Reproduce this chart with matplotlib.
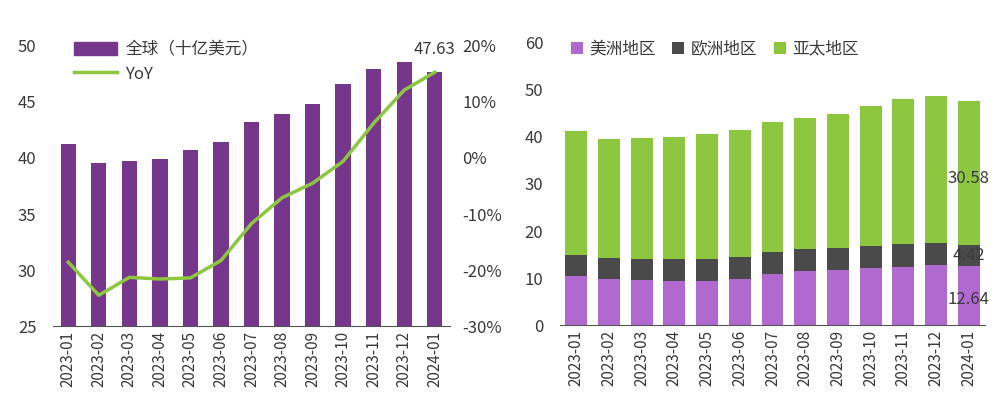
import numpy as np
import matplotlib.pyplot as plt
from matplotlib.patches import Patch
from matplotlib.lines import Line2D

plt.rcParams['font.family'] = ['Noto Sans CJK SC', 'DejaVu Sans']

# 数据
months = ["2023-01", "2023-02", "2023-03", "2023-04", "2023-05", "2023-06", "2023-07",
          "2023-08", "2023-09", "2023-10", "2023-11", "2023-12", "2024-01"]
total = [41.25, 39.58, 39.76, 39.91, 40.68, 41.46, 43.18, 43.96, 44.85, 46.58, 47.95, 48.60, 47.63]
yoy = [-18.6, -24.5, -21.3, -21.6, -21.4, -18.3, -11.7, -7.1, -4.5, -0.6, 6.2, 12.1, 15.3]
americas = [10.47, 9.90, 9.55, 9.48, 9.48, 9.84, 10.97, 11.46, 11.75, 12.10, 12.46, 12.74, 12.64]
europe = [4.46, 4.47, 4.60, 4.53, 4.67, 4.66, 4.67, 4.68, 4.74, 4.81, 4.88, 4.67, 4.42]
asia = [t - a - e for t, a, e in zip(total, americas, europe)]
asia[-1] = 30.58

purple = "#76368C"
green = "#8DC63F"
light_purple = "#B06ACF"
dark_gray = "#4A4A4A"
txt = "#3A3A3A"

fig = plt.figure(figsize=(10, 4.17), dpi=100)
x = np.arange(len(months))

# 左图
ax1 = fig.add_axes([0.053, 0.218, 0.397, 0.672])
ax1.bar(x, total, width=0.5, color=purple)
ax1.set_ylim(25, 50)
ax1.set_xlim(-0.5, 12.5)
ax1.set_yticks([25, 30, 35, 40, 45, 50])
ax2 = ax1.twinx()
ax2.plot(x, yoy, color=green, lw=2.5)
ax2.set_ylim(-30, 20)
ax2.set_yticks([-30, -20, -10, 0, 10, 20])
ax2.set_yticklabels([f"{v}%" for v in [-30, -20, -10, 0, 10, 20]])
ax1.text(12.0, 49.7, "47.63", ha="center", va="center", fontsize=12, color=txt)

for ax in (ax1, ax2):
    for s in ax.spines.values():
        s.set_visible(False)
    ax.tick_params(length=0, labelsize=12, colors=txt)
ax1.spines["bottom"].set_visible(True)
ax1.spines["bottom"].set_color("#555555")
ax1.set_xticks(x)
ax1.set_xticklabels(months, rotation=90, fontsize=11)
ax1.tick_params(axis="y", pad=12)
ax2.tick_params(axis="y", pad=9)

handles = [Patch(color=purple), Line2D([0], [0], color=green, lw=2.5)]
ax1.legend(handles, ["全球（十亿美元）", "YoY"], loc="upper left", bbox_to_anchor=(0.035, 1.04),
           frameon=False, fontsize=12, handlelength=2.6, handleheight=0.9, labelspacing=0.45,
           handletextpad=0.5, labelcolor=txt, borderaxespad=0)

# 右图
ax3 = fig.add_axes([0.56, 0.22, 0.425, 0.678])
ax3.bar(x, americas, width=0.67, color=light_purple, label="美洲地区")
ax3.bar(x, europe, width=0.67, bottom=americas, color=dark_gray, label="欧洲地区")
bottom2 = [a + e for a, e in zip(americas, europe)]
ax3.bar(x, asia, width=0.67, bottom=bottom2, color=green, label="亚太地区")
ax3.set_ylim(0, 60)
ax3.set_xlim(-0.5, 12.5)
ax3.set_yticks([0, 10, 20, 30, 40, 50, 60])
for s in ax3.spines.values():
    s.set_visible(False)
ax3.spines["bottom"].set_visible(True)
ax3.spines["bottom"].set_color("#555555")
ax3.tick_params(length=0, labelsize=12, colors=txt)
ax3.tick_params(axis="y", pad=12)
ax3.set_xticks(x)
ax3.set_xticklabels(months, rotation=90, fontsize=11)

i = len(months) - 1
ax3.text(i, americas[i] / 2 - 0.8, "12.64", ha="center", va="center", fontsize=12, color=txt)
ax3.text(i, americas[i] + europe[i] / 2, "4.42", ha="center", va="center", fontsize=12, color=txt)
ax3.text(i, bottom2[i] + asia[i] / 2 - 1.2, "30.58", ha="center", va="center", fontsize=12, color=txt)

ax3.legend(loc="upper left", bbox_to_anchor=(0.01, 1.03), ncol=3, frameon=False, fontsize=12,
           handlelength=0.7, handleheight=0.7, handletextpad=0.4, columnspacing=1.0,
           labelcolor=txt, borderaxespad=0)

fig.savefig("out.png", dpi=100)
